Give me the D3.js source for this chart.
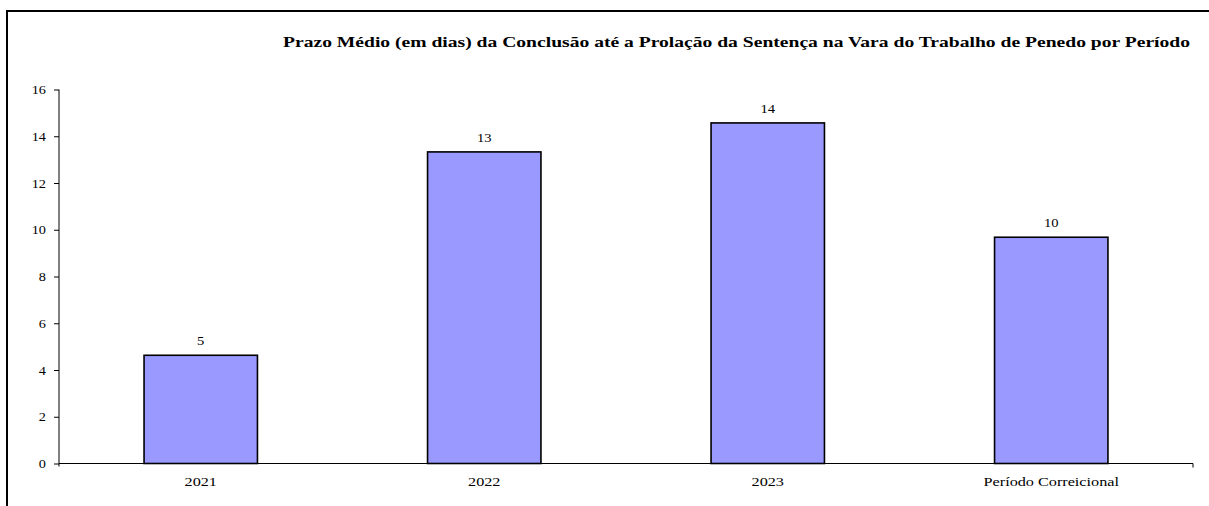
<!DOCTYPE html>
<html><head><meta charset="utf-8">
<script src="https://cdn.jsdelivr.net/npm/d3@7"></script>
<style>body{margin:0;background:#fff}svg{display:block}text{font-family:"Liberation Serif","Times New Roman",serif;fill:#000}</style>
</head><body>
<svg id="c" width="1209" height="506"></svg>
<script>
const categories = ["2021", "2022", "2023", "Período Correicional"];
const values = [4.63, 13.33, 14.57, 9.68];
const valueLabels = ["5", "13", "14", "10"];
const yTicks = [0, 2, 4, 6, 8, 10, 12, 14, 16];
const title = "Prazo Médio (em dias) da Conclusão até a Prolação da Sentença na Vara do Trabalho de Penedo por Período";

(function () {
const svg = d3.select("#c");
// frame
svg.append("path").attr("d", "M7,506V11H1209").attr("fill", "none").attr("stroke", "#000").attr("stroke-width", 2);

const mLeft = 59, mRight = 1193, mTop = 89.5, mBottom = 463.5;
const x = d3.scaleBand().domain(categories).range([mLeft, mRight]).paddingInner(0.6).paddingOuter(0.3);
const y = d3.scaleLinear().domain([0, 16]).range([mBottom, mTop]);

// title
svg.append("text").attr("class", "stretch").attr("data-w", 907)
  .attr("x", 283).attr("y", 47).attr("font-size", 14.5).attr("font-weight", "bold")
  .attr("font-family", "Liberation Serif").text(title);

// y axis
const ya = svg.append("g").attr("transform", `translate(${mLeft},0)`)
  .call(d3.axisLeft(y).tickValues(yTicks).tickSize(5).tickPadding(8).tickFormat(d3.format("d")));
ya.attr("font-family", "Liberation Serif");
ya.select(".domain").attr("d", `M0,${mTop}V${mBottom + 3}`).attr("stroke", "#000");
ya.selectAll(".tick line").attr("stroke", "#000");
ya.selectAll(".tick text").attr("font-size", 13).attr("font-family", "Liberation Serif").attr("class", "stretch").attr("data-k", 1.1);

// bars
svg.append("g").selectAll("rect").data(values).join("rect")
  .attr("x", (d, i) => x(categories[i])).attr("width", x.bandwidth())
  .attr("y", d => y(d)).attr("height", d => y(0) - y(d))
  .attr("fill", "#9999ff").attr("stroke", "#000").attr("stroke-width", 1.6);

// x axis
svg.append("path").attr("d", `M${mLeft},${mBottom}H${mRight}v4`).attr("fill", "none").attr("stroke", "#000").attr("stroke-width", 1);
svg.append("g").selectAll("text").data(categories).join("text")
  .attr("class", "stretch").attr("data-k", 1.2)
  .attr("x", d => x(d) + x.bandwidth() / 2).attr("y", 486)
  .attr("text-anchor", "middle").attr("font-size", 13.5).text(d => d);

// value labels
svg.append("g").selectAll("text").data(values).join("text")
  .attr("class", "stretch").attr("data-k", 1.12)
  .attr("x", (d, i) => x(categories[i]) + x.bandwidth() / 2).attr("y", d => y(d) - 10)
  .attr("text-anchor", "middle").attr("font-size", 13).text((d, i) => valueLabels[i]);

// horizontal stretch like the reference
svg.selectAll("text.stretch").each(function () {
  const w = this.getAttribute("data-w");
  const k = this.getAttribute("data-k");
  const len = this.getComputedTextLength();
  const target = w ? +w : len * (+k);
  this.setAttribute("textLength", target);
  this.setAttribute("lengthAdjust", "spacingAndGlyphs");
});
})();
</script>
</body></html>
